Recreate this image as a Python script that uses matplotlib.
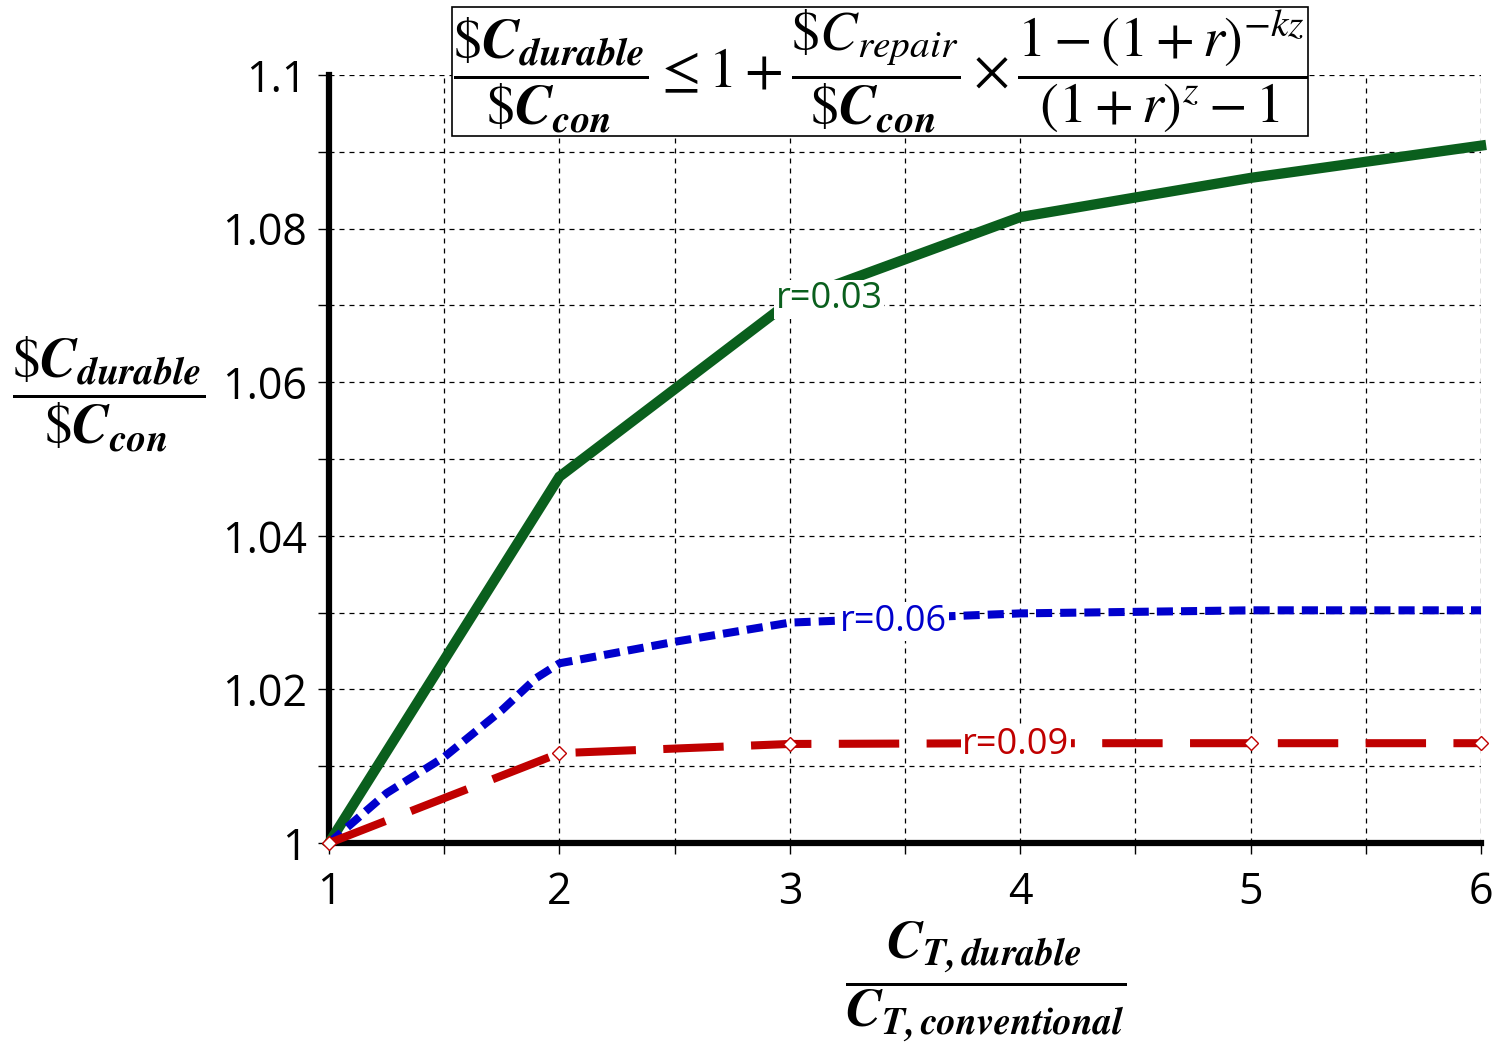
import numpy as np
import matplotlib.pyplot as plt

plt.rcParams['font.family'] = ['Open Sans', 'DejaVu Sans']
plt.rcParams['mathtext.fontset'] = 'stix'

# ratio of total cost durable / conventional
x_green = [1, 2, 3, 4, 5, 6]
y_green = [1.0, 1.0477, 1.0705, 1.0815, 1.0866, 1.0908]

x_blue = [1, 1.25, 1.5, 1.75, 1.9, 2, 2.5, 3, 3.5, 4, 5, 6]
y_blue = [1.0, 1.0065, 1.0112, 1.0173, 1.0215, 1.0234, 1.0262, 1.0287, 1.0293, 1.0299, 1.0303, 1.0303]

x_red = [1, 2, 3, 4, 5, 6]
y_red = [1.0, 1.0117, 1.0129, 1.0130, 1.0130, 1.0130]

fig = plt.figure(figsize=(14.93, 10.47), dpi=100)
ax = fig.add_axes([0.2204, 0.1948, 0.992 - 0.2204, 0.9284 - 0.1948])

ax.plot(x_green, y_green, color='#0a5f1d', lw=7.4, solid_joinstyle='miter', clip_on=False, zorder=3)
ax.plot(x_blue, y_blue, color='#0000cc', lw=5.8, dashes=(2, 1), clip_on=False, zorder=3)
ax.plot(x_red, y_red, color='#c00000', lw=5.8, dashes=(7.5, 3.4), clip_on=False, zorder=3)
ax.plot(x_red, y_red, ls='none', marker='D', ms=7, mfc='white', mec='#c00000', mew=1, clip_on=False, zorder=4)

lbl = dict(fontsize=26, ha='center', va='center', zorder=5,
           bbox=dict(facecolor='white', edgecolor='none', pad=1))
ax.text(3.17, 1.0708, 'r=0.03', color='#0a5f1d', **lbl)
ax.text(3.45, 1.0288, 'r=0.06', color='#0000cc', **lbl)
ax.text(3.98, 1.0127, 'r=0.09', color='#c00000', **lbl)

ax.set_xlim(1, 6)
ax.set_ylim(1, 1.1)
ax.set_xticks([1, 2, 3, 4, 5, 6])
ax.set_xticklabels(['1', '2', '3', '4', '5', '6'])
ax.set_yticks([1, 1.02, 1.04, 1.06, 1.08, 1.1])
ax.set_yticklabels(['1', '1.02', '1.04', '1.06', '1.08', '1.1'])
ax.set_xticks(np.arange(1.5, 6, 1), minor=True)
ax.set_yticks(np.arange(1.01, 1.1, 0.02), minor=True)
ax.tick_params(which='both', direction='out', length=8, width=1, labelsize=31, pad=8)
ax.tick_params(axis='x', pad=12)
ax.grid(which='both', color='black', ls=(0, (4, 4)), lw=0.9)

for s in ['top', 'right']:
    ax.spines[s].set_visible(False)
for s in ['left', 'bottom']:
    ax.spines[s].set_linewidth(4.5)
ax.set_axisbelow(True)

fig.text(0.5895, 0.932,
         r'$\dfrac{\$\mathbfit{C}_{\mathbfit{durable}}}{\$\mathbfit{C}_{\mathbfit{con}}} \leq 1 + '
         r'\dfrac{\$C_{repair}}{\$\mathbfit{C}_{\mathbfit{con}}} \times '
         r'\dfrac{1-(1+r)^{-kz}}{(1+r)^{z}-1}$',
         fontsize=40.5, ha='center', va='center',
         bbox=dict(facecolor='white', edgecolor='black', lw=1.2, pad=0.5))

fig.text(0.073, 0.623,
         r'$\dfrac{\$\mathbfit{C}_{\mathbfit{durable}}}{\$\mathbfit{C}_{\mathbfit{con}}}$',
         fontsize=40, ha='center', va='center')
fig.text(0.66, 0.063,
         r'$\dfrac{\mathbfit{C}_{\mathbfit{T,durable}}}{\mathbfit{C}_{\mathbfit{T,conventional}}}$',
         fontsize=39, ha='center', va='center')

fig.savefig('out.png', dpi=100)
